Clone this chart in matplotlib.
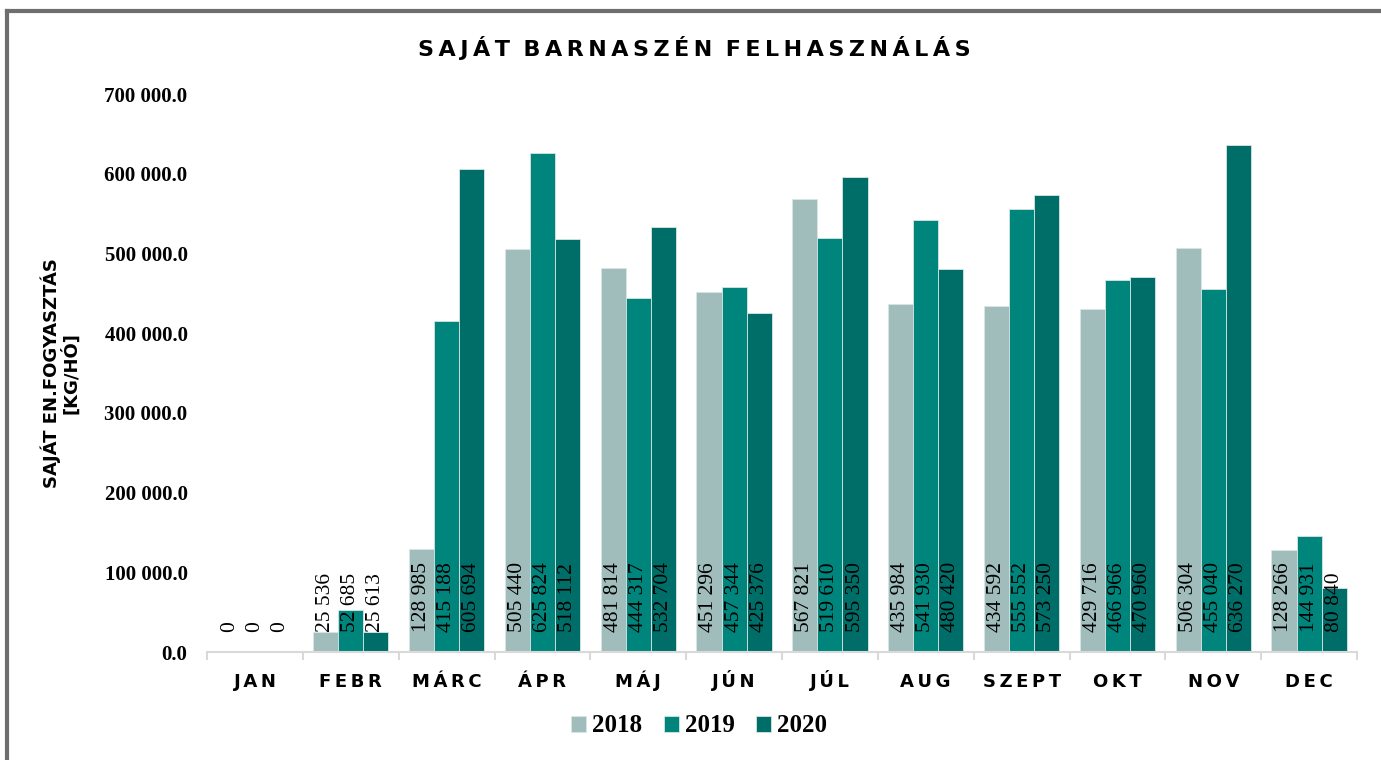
import matplotlib.pyplot as plt
import numpy as np
from matplotlib.lines import Line2D
from matplotlib.transforms import offset_copy, blended_transform_factory

months = ['JAN', 'FEBR', 'MÁRC', 'ÁPR', 'MÁJ', 'JÚN', 'JÚL', 'AUG', 'SZEPT', 'OKT', 'NOV', 'DEC']
years = ['2018', '2019', '2020']
v2018 = [0, 25536, 128985, 505440, 481814, 451296, 567821, 435984, 434592, 429716, 506304, 128266]
v2019 = [0, 52685, 415188, 625824, 444317, 457344, 519610, 541930, 555552, 466966, 455040, 144931]
v2020 = [0, 25613, 605694, 518112, 532704, 425376, 595350, 480420, 573250, 470960, 636270, 80840]
colors = ['#a0bcbb', '#00857d', '#006e68']
yticks = [0, 100000, 200000, 300000, 400000, 500000, 600000, 700000]

TS = '\u2009'  # thin space, used as letter spacing

def spaced(s):
    return (TS * 3).join(TS.join(w) for w in s.split(' '))

def fmt_thousands(v):
    return '{:,}'.format(int(v)).replace(',', ' ')

fig = plt.figure(figsize=(13.81, 7.6), dpi=100)
ax = fig.add_axes([207 / 1381, 1 - 652 / 760, 1150 / 1381, 558 / 760])

x = np.arange(len(months))
w = 0.262
series = [v2018, v2019, v2020]
trans = offset_copy(ax.transData, fig=fig, x=0, y=20, units='dots')
for i, vals in enumerate(series):
    xs = x + (i - 1) * w
    ax.bar(xs, vals, width=w, color=colors[i], edgecolor='#d8e6e5', linewidth=0.6, label=years[i])
    for xv, v in zip(xs, vals):
        ax.text(xv, 0, fmt_thousands(v), rotation=90, ha='center', va='bottom',
                family='Liberation Serif', fontsize=15.5, color='black', transform=trans)

ax.set_xlim(-0.5, len(months) - 0.5)
ax.set_ylim(0, 700000)
ax.set_yticks(yticks)
ax.set_yticklabels([fmt_thousands(t) + '.0' for t in yticks], family='Liberation Serif',
                   fontweight='bold', fontsize=15)
ax.tick_params(axis='y', length=0, pad=14)

ax.set_xticks([])
xlab_tr = blended_transform_factory(ax.transData, fig.transFigure)
for xi, m in zip(x, months):
    ax.text(xi, 1 - 687 / 760, spaced(m), ha='center', va='baseline', transform=xlab_tr,
            fontweight='bold', fontsize=13, family='DejaVu Sans')
for b in np.arange(-0.5, len(months), 1.0):
    ax.plot([b, b], [0, -9000], color='#d9d9d9', lw=1.5, clip_on=False)

for s in ['top', 'right', 'left']:
    ax.spines[s].set_visible(False)
ax.spines['bottom'].set_color('#d9d9d9')
ax.spines['bottom'].set_linewidth(1.5)

fig.text(60 / 1381, 1 - 373 / 760, 'SAJÁT EN.FOGYASZTÁS\n[KG/HÓ]', rotation=90, ha='center', va='center',
         multialignment='center', fontweight='bold', fontsize=13, family='DejaVu Sans', linespacing=1.0)

fig.text(694 / 1381, 1 - 48 / 760, spaced('SAJÁT BARNASZÉN FELHASZNÁLÁS'), ha='center', va='center',
         fontweight='bold', fontsize=16, family='DejaVu Sans')

fig.legend(loc='center', bbox_to_anchor=(699 / 1381, 1 - 726 / 760), ncol=3, frameon=False,
           prop={'family': 'Liberation Serif', 'weight': 'bold', 'size': 18},
           handlelength=0.6, handleheight=0.6, handletextpad=0.25, columnspacing=0.85)

fig.add_artist(Line2D([7 / 1381, 7 / 1381], [0, 1 - 11 / 760], color='#6e6e6e', lw=3,
                      transform=fig.transFigure))
fig.add_artist(Line2D([7 / 1381, 1], [1 - 11 / 760, 1 - 11 / 760], color='#6e6e6e', lw=3,
                      transform=fig.transFigure))

fig.savefig('out.png', dpi=100)
